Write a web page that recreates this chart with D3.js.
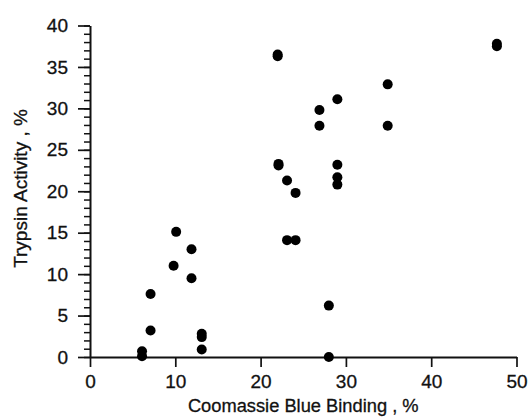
<!DOCTYPE html>
<html>
<head>
<meta charset="utf-8">
<script src="https://cdn.jsdelivr.net/npm/d3@7/dist/d3.min.js"></script>
<style>
  html, body { margin: 0; padding: 0; background: #fff; }
  svg { display: block; }
  text { font-family: "Liberation Sans", Arial, Helvetica, sans-serif; fill: #111; stroke: #111; stroke-width: 0.3px; }
</style>
</head>
<body>
<svg id="chart" width="529" height="418"></svg>
<script>
// Data
const xValues = [6.1, 6.1, 7.1, 7.1, 10.1, 9.8, 11.9, 11.9, 13.1, 13.1, 13.1,
  22.0, 22.0, 22.1, 22.1, 23.1, 24.1, 23.1, 24.1, 26.9, 26.9, 28.0, 28.0,
  29.0, 29.0, 29.0, 29.0, 34.9, 34.9, 47.7, 47.7];
const yValues = [0.1, 0.7, 3.2, 7.6, 15.1, 11.0, 13.0, 9.5, 2.8, 2.4, 0.9,
  36.3, 36.5, 23.1, 23.3, 21.3, 19.8, 14.1, 14.1, 29.8, 27.9, 6.2, 0.0,
  31.1, 23.2, 21.7, 20.8, 32.9, 27.9, 37.5, 37.8];
const xTicks = [0, 10, 20, 30, 40, 50];
const yTicks = [0, 5, 10, 15, 20, 25, 30, 35, 40];
const yMinorTicks = d3.range(0, 41, 1);
const xTitle = "Coomassie Blue Binding , %";
const yTitle = "Trypsin Activity , %";

const svg = d3.select("#chart");
const x = d3.scaleLinear().domain([0, 50]).range([90, 516.5]);
const y = d3.scaleLinear().domain([0, 40]).range([357, 25.5]);

// Y minor ticks
svg.append("g")
  .attr("transform", `translate(${x(0)},0)`)
  .call(d3.axisLeft(y).tickValues(yMinorTicks).tickSize(6).tickSizeOuter(0).tickFormat(""))
  .call(g => g.select(".domain").remove())
  .call(g => g.selectAll("line").attr("stroke", "#111").attr("stroke-width", 1.5));

// Y axis
const yAxis = svg.append("g")
  .attr("transform", `translate(${x(0)},0)`)
  .call(d3.axisLeft(y).tickValues(yTicks).tickSize(12).tickSizeOuter(0).tickPadding(10));
yAxis.select(".domain").attr("stroke", "#111").attr("stroke-width", 2);
yAxis.selectAll(".tick line").attr("stroke", "#111").attr("stroke-width", 1.7);
yAxis.selectAll(".tick text")
  .style("font-family", '"Liberation Sans", Arial, sans-serif')
  .style("font-size", "19px").attr("fill", "#111");

// X axis
const xAxis = svg.append("g")
  .attr("transform", `translate(0,${y(0)})`)
  .call(d3.axisBottom(x).tickValues(xTicks).tickSize(10).tickSizeOuter(0).tickPadding(8));
xAxis.select(".domain").attr("stroke", "#111").attr("stroke-width", 2);
xAxis.selectAll(".tick line").attr("stroke", "#111").attr("stroke-width", 1.7);
xAxis.selectAll(".tick text")
  .style("font-family", '"Liberation Sans", Arial, sans-serif')
  .style("font-size", "19px").attr("fill", "#111");

// Titles
svg.append("text")
  .attr("x", (x(0) + x(50)) / 2)
  .attr("y", 412)
  .attr("text-anchor", "middle")
  .style("font-size", "18.3px")
  .text(xTitle);

svg.append("text")
  .attr("transform", `translate(27,188.5) rotate(-90)`)
  .attr("text-anchor", "middle")
  .style("font-size", "19px")
  .text(yTitle);

// Points
const pts = xValues.map((v, i) => ({ x: v, y: yValues[i] }));
svg.append("g")
  .selectAll("circle")
  .data(pts)
  .join("circle")
  .attr("cx", d => x(d.x))
  .attr("cy", d => y(d.y))
  .attr("r", 5)
  .attr("fill", "#000");
</script>
</body>
</html>
